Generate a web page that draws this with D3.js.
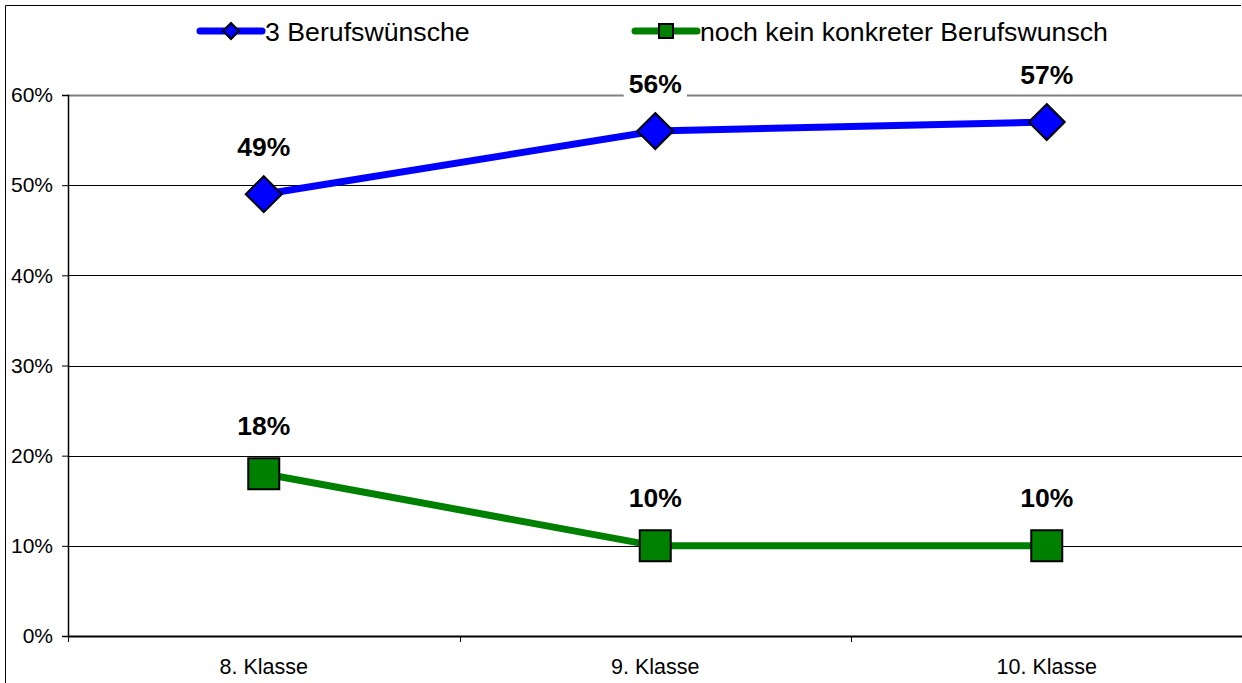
<!DOCTYPE html>
<html>
<head>
<meta charset="utf-8">
<script src="https://cdn.jsdelivr.net/npm/d3@7"></script>
<style>
  body { margin: 0; background: #fff; }
  svg { display: block; font-family: Arial, "Liberation Sans", sans-serif; }
</style>
</head>
<body>
<div id="chart"></div>
<script>
/* ------------------------------- data ------------------------------- */
var categories = ['8. Klasse', '9. Klasse', '10. Klasse'];
var seriesNames = ['3 Berufswünsche', 'noch kein konkreter Berufswunsch'];
var berufswuensche = [0.49, 0.56, 0.57];
var keinWunsch = [0.18, 0.10, 0.10];
var yTicks = [0, 0.1, 0.2, 0.3, 0.4, 0.5, 0.6];

/* ------------------------------- setup ------------------------------- */
var width = 1242;
var height = 683;
var plot = { left: 68, right: 1242.5, top: 95, bottom: 636 };
var colors = ['#0000FF', '#008000'];
var pct = d3.format('.0%');

var svg = d3.select('#chart').append('svg')
    .attr('width', width)
    .attr('height', height);

var x = d3.scaleBand().domain(categories).range([plot.left, plot.right]);
var y = d3.scaleLinear().domain([0, 0.6]).range([plot.bottom, plot.top]);

// chart border (only top and left are inside the picture)
svg.append('path')
    .attr('d', 'M5.5,' + height + 'V5.5H1241')
    .attr('fill', 'none')
    .attr('stroke', '#000')
    .attr('stroke-width', 1);

/* ------------------------------- grid / axes ------------------------------- */
svg.append('g').selectAll('line')
    .data(yTicks.filter(function(d) { return d > 0; }))
    .enter().append('line')
    .attr('x1', plot.left).attr('x2', plot.right)
    .attr('y1', function(d) { return Math.round(y(d)) + 0.5; })
    .attr('y2', function(d) { return Math.round(y(d)) + 0.5; })
    .attr('stroke', function(d) { return d === 0.6 ? '#808080' : '#000'; })
    .attr('stroke-width', function(d) { return d === 0.6 ? 2 : 1; });

var yAxis = svg.append('g')
    .attr('transform', 'translate(' + plot.left + ',0)')
    .call(d3.axisLeft(y).tickValues(yTicks).tickFormat(pct).tickSize(6).tickPadding(9));
yAxis.select('.domain').attr('stroke-width', 1.5);
yAxis.selectAll('text').attr('font-size', 21).attr('fill', '#000').attr('font-family', 'Arial, "Liberation Sans", sans-serif');

var xAxis = svg.append('g')
    .attr('transform', 'translate(0,' + plot.bottom + ')')
    .call(d3.axisBottom(x).tickSize(0).tickPadding(23));
xAxis.select('.domain').attr('stroke-width', 2);
xAxis.selectAll('text').attr('font-size', 21.5).attr('fill', '#000').attr('font-family', 'Arial, "Liberation Sans", sans-serif');

// tick marks between the categories
var bounds = categories.map(function(c) { return x(c); }).concat([x(categories[categories.length - 1]) + x.bandwidth()]);
svg.append('g').selectAll('line')
    .data(bounds)
    .enter().append('line')
    .attr('x1', function(d) { return Math.round(d) + 0.5; })
    .attr('x2', function(d) { return Math.round(d) + 0.5; })
    .attr('y1', plot.bottom).attr('y2', plot.bottom + 6)
    .attr('stroke', '#000');

/* ------------------------------- series ------------------------------- */
var cx = function(i) { return x(categories[i]) + x.bandwidth() / 2; };
var line = d3.line()
    .x(function(d, i) { return cx(i); })
    .y(function(d) { return y(d); });

var diamond = function(r) { return 'M0,' + -r + 'L' + r + ',0L0,' + r + 'L' + -r + ',0Z'; };
var square = function(r) { return 'M' + -r + ',' + -r + 'H' + r + 'V' + r + 'H' + -r + 'Z'; };

[berufswuensche, keinWunsch].forEach(function(values, s) {
  var g = svg.append('g');
  g.append('path')
      .datum(values)
      .attr('d', line)
      .attr('fill', 'none')
      .attr('stroke', colors[s])
      .attr('stroke-width', 7);
  g.selectAll('path.marker')
      .data(values)
      .enter().append('path')
      .attr('class', 'marker')
      .attr('transform', function(d, i) { return 'translate(' + cx(i) + ',' + y(d) + ')'; })
      .attr('d', s === 0 ? diamond(18) : square(15.5))
      .attr('fill', colors[s])
      .attr('stroke', '#000')
      .attr('stroke-width', 2);

  // data labels with white background
  var labels = g.selectAll('g.label')
      .data(values)
      .enter().append('g')
      .attr('class', 'label')
      .attr('transform', function(d, i) { return 'translate(' + cx(i) + ',' + (y(d) - 48) + ')'; });
  labels.append('rect').attr('fill', '#fff');
  labels.append('text')
      .attr('text-anchor', 'middle')
      .attr('dy', '0.36em')
      .attr('font-size', 26.5)
      .attr('font-weight', 'bold')
      .text(function(d) { return pct(d); });
  labels.each(function() {
    var b = d3.select(this).select('text').node().getBBox();
    d3.select(this).select('rect')
        .attr('x', b.x - 5).attr('y', -20)
        .attr('width', b.width + 10).attr('height', 40);
  });
});

/* ------------------------------- legend ------------------------------- */
var legendX = [200, 635];
var legend = svg.append('g').selectAll('g')
    .data(seriesNames)
    .enter().append('g')
    .attr('transform', function(d, i) { return 'translate(' + legendX[i] + ',31)'; });
legend.append('line')
    .attr('x1', 0).attr('x2', 62)
    .attr('stroke', function(d, i) { return colors[i]; })
    .attr('stroke-width', 7)
    .attr('stroke-linecap', 'round');
legend.append('path')
    .attr('transform', 'translate(31,0)')
    .attr('d', function(d, i) { return i === 0 ? diamond(8) : square(7); })
    .attr('fill', function(d, i) { return colors[i]; })
    .attr('stroke', '#000')
    .attr('stroke-width', 2);
legend.append('text')
    .attr('x', 65)
    .attr('dy', '0.36em')
    .attr('font-size', 26.7)
    .text(function(d) { return d; });
</script>
</body>
</html>
